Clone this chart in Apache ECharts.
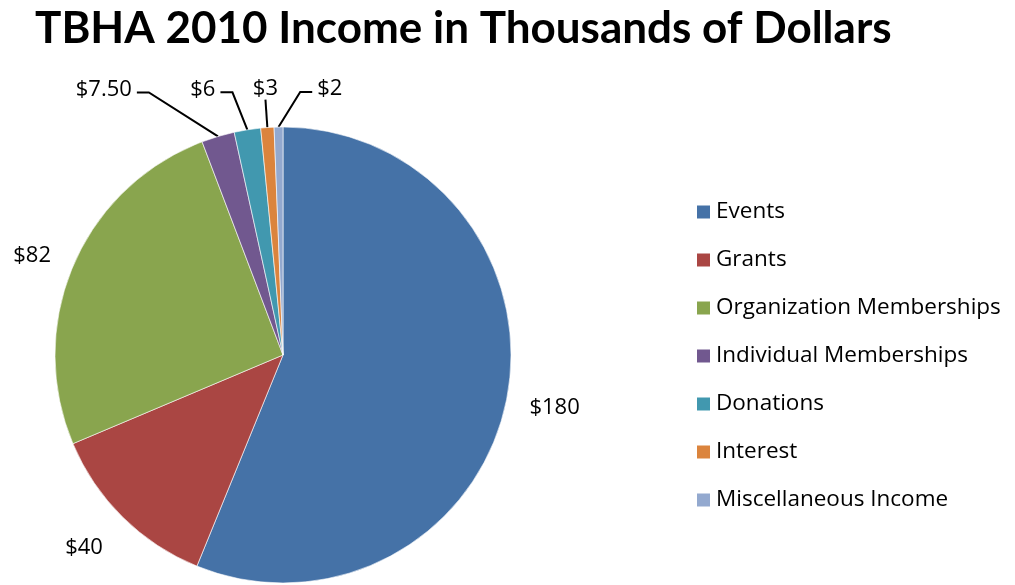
<!DOCTYPE html>
<html>
<head>
<meta charset="utf-8">
<title>TBHA 2010 Income</title>
<script src="https://cdn.jsdelivr.net/npm/echarts@6/dist/echarts.min.js"></script>
<style>
  html, body { margin: 0; padding: 0; background: #fff; }
  #chart { width: 1015px; height: 585px; }
</style>
</head>
<body>
<div id="chart"></div>
<script>
// Income sources (thousands of dollars)
const categories = [
  'Events',
  'Grants',
  'Organization Memberships',
  'Individual Memberships',
  'Donations',
  'Interest',
  'Miscellaneous Income'
];
const incomeValues = [180, 40, 82, 7.5, 6, 3, 2];

// Slice colours
const sliceColors = ['#4572A7', '#AA4643', '#89A54E', '#71588F', '#4198AF', '#DB843D', '#93A9CF'];

// Leader line settings per slice
const leaderLines = [
  { show: false, length: 18, length2: 0 },
  { show: false, length: 34, length2: 0 },
  { show: false, length: 20, length2: 0 },
  { show: true, length: 46, length2: 68 },
  { show: true, length: 38, length2: 21 },
  { show: true, length: 28, length2: 0 },
  { show: true, length: 35, length2: 33 }
];

// Small offsets for labels drawn without a leader
const labelNudge = [
  { dx: 0, dy: 5 },
  { dx: 9, dy: 6 },
  { dx: 1, dy: -2 }
];

const TITLE_FONT = 'Lato';
const FONT = 'Open Sans';
const ELBOW = 12;       // horizontal run of a leader next to its label
const TEXT_LIFT = 3;    // label sits slightly above its leader

function moneyLabel(v) {
  return '$' + (Number.isInteger(v) ? String(v) : v.toFixed(2));
}

const chart = echarts.init(document.getElementById('chart'), null, { renderer: 'canvas' });

chart.setOption({
  animation: false,
  backgroundColor: '#ffffff',
  title: {
    text: 'TBHA 2010 Income in Thousands of Dollars',
    left: 35,
    top: 7,
    padding: 0,
    textStyle: { fontFamily: TITLE_FONT, fontSize: 44, fontWeight: 'bold', color: '#000' }
  },
  legend: {
    orient: 'vertical',
    left: 695,
    top: 199,
    padding: 0,
    itemGap: 22,
    itemWidth: 15,
    itemHeight: 15,
    icon: 'rect',
    selectedMode: false,
    data: categories,
    textStyle: { fontFamily: FONT, fontSize: 22.5, color: '#000', lineHeight: 26 }
  },
  series: [{
    type: 'pie',
    center: [283, 355],
    radius: 228,
    startAngle: 90,
    clockwise: true,
    avoidLabelOverlap: false,
    emphasis: { disabled: true },
    itemStyle: { borderColor: '#ffffff', borderWidth: 0.6 },
    label: {
      show: true,
      position: 'outside',
      fontFamily: FONT,
      fontSize: 22,
      color: '#000',
      formatter: p => moneyLabel(p.value)
    },
    labelLine: { lineStyle: { color: '#000', width: 2 }, smooth: false },
    labelLayout: function (params) {
      const idx = params.dataIndex;
      if (!leaderLines[idx].show) {
        return labelNudge[idx] || {};
      }
      const pts = params.labelLinePoints;
      if (!pts) return {};
      const name = categories[idx];
      const anchor = pts[0];
      const end = pts[2];
      if (name === 'Interest') {
        // text sits centred above a short vertical leader
        return {
          x: end[0], y: end[1], align: 'center', verticalAlign: 'bottom',
          labelLinePoints: pts
        };
      }
      if (name === 'Miscellaneous Income') {
        // leader turns to the right-hand side
        const endX = 2 * anchor[0] - end[0];
        const line = [anchor, [endX - ELBOW, end[1]], [endX, end[1]]];
        return {
          x: endX + 5, y: end[1] - TEXT_LIFT, align: 'left', verticalAlign: 'middle',
          labelLinePoints: line
        };
      }
      // diagonal leader with a short horizontal run at the label
      const line = [anchor, [end[0] + ELBOW, end[1]], end];
      return {
        x: end[0] - 5, y: end[1] - TEXT_LIFT, align: 'right', verticalAlign: 'middle',
        labelLinePoints: line
      };
    },
    data: categories.map((name, i) => ({
      name: name,
      value: incomeValues[i],
      itemStyle: { color: sliceColors[i] },
      labelLine: leaderLines[i]
    }))
  }]
});
</script>
</body>
</html>
